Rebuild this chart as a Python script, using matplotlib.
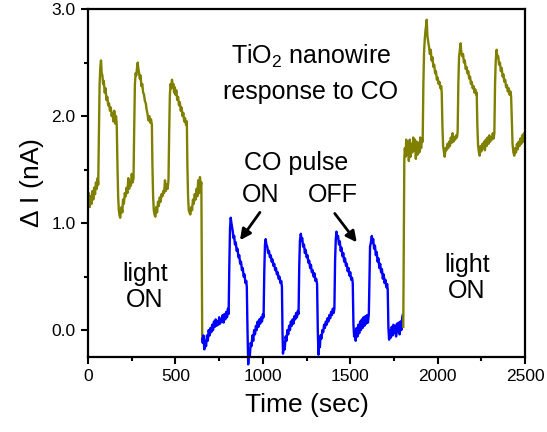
import numpy as np
import matplotlib
matplotlib.use("Agg")
import matplotlib.pyplot as plt
from matplotlib.ticker import MultipleLocator, FormatStrFormatter

plt.rcParams['font.family'] = ['Liberation Sans', 'DejaVu Sans']
plt.rcParams['mathtext.default'] = 'regular'

# first light-on period (olive)
t_light1 = [0, 5, 10, 15, 20, 25, 30, 35, 40, 45, 50, 55, 58, 62, 66, 70, 74, 78, 82, 86,
            90, 95, 100, 105, 110, 115, 120, 125, 130, 135, 140, 145, 150, 155, 160, 164, 168,
            172, 176, 180, 184, 188, 192, 196, 200, 205, 210, 215, 220, 225, 230, 235, 240,
            245, 250, 255, 260, 264, 268, 272, 276, 280, 284, 288, 292, 296, 300, 305, 310,
            315, 320, 325, 330, 335, 340, 345, 350, 355, 360, 365, 368, 372, 376, 380, 385,
            390, 395, 400, 405, 410, 415, 420, 425, 430, 435, 440, 445, 450, 455, 460, 464,
            468, 472, 476, 480, 484, 488, 492, 496, 500, 505, 510, 515, 520, 525, 530, 535,
            540, 545, 550, 555, 560, 565, 568, 572, 576, 580, 585, 590, 595, 600, 605, 610,
            615, 620, 625, 630, 635, 640, 645, 648, 651, 653]
i_light1 = [1.20, 1.28, 1.15, 1.25, 1.18, 1.30, 1.22, 1.33, 1.27, 1.38, 1.32, 1.42, 1.36, 1.80,
            2.30, 2.45, 2.52, 2.40, 2.38, 2.30, 2.33, 2.22, 2.26, 2.15, 2.18, 2.10, 2.12, 2.05,
            2.08, 2.00, 2.03, 1.95, 2.05, 1.93, 2.00, 1.92, 1.55, 1.25, 1.12, 1.07, 1.05, 1.12,
            1.15, 1.10, 1.22, 1.18, 1.28, 1.25, 1.33, 1.28, 1.42, 1.32, 1.38, 1.35, 1.46, 1.38,
            1.42, 1.90, 2.30, 2.40, 2.38, 2.45, 2.50, 2.44, 2.40, 2.35, 2.38, 2.28, 2.30, 2.22,
            2.20, 2.14, 2.12, 2.06, 2.02, 1.96, 2.00, 1.94, 1.97, 1.92, 1.55, 1.25, 1.12, 1.08,
            1.06, 1.15, 1.10, 1.20, 1.16, 1.24, 1.20, 1.27, 1.25, 1.30, 1.28, 1.40, 1.30, 1.36,
            1.32, 1.40, 1.85, 2.20, 2.30, 2.26, 2.34, 2.28, 2.30, 2.22, 2.27, 2.20, 2.24, 2.15,
            2.18, 2.10, 2.13, 2.05, 2.08, 2.00, 2.03, 1.95, 1.98, 1.92, 1.95, 1.55, 1.25, 1.12,
            1.10, 1.08, 1.15, 1.12, 1.22, 1.18, 1.27, 1.22, 1.32, 1.25, 1.40, 1.28, 1.43, 1.35,
            1.38, 0.60, -0.08]

# dark period with CO pulses (blue)
t_co = [653, 656, 660, 665, 670, 675, 680, 685, 690, 695, 700, 705, 710, 715, 720, 725, 730,
        735, 740, 745, 750, 755, 760, 765, 770, 775, 780, 785, 790, 795, 800, 804, 808, 812,
        816, 820, 824, 828, 832, 836, 840, 845, 850, 855, 860, 865, 870, 875, 880, 885, 890,
        895, 900, 905, 908, 912, 916, 920, 925, 930, 935, 940, 945, 950, 955, 960, 965, 970,
        975, 980, 985, 990, 995, 1000, 1004, 1008, 1012, 1016, 1020, 1025, 1030, 1035, 1040,
        1045, 1050, 1055, 1060, 1065, 1070, 1075, 1080, 1085, 1090, 1095, 1100, 1105, 1109,
        1112, 1115, 1120, 1125, 1130, 1135, 1140, 1145, 1150, 1155, 1160, 1165, 1170, 1175,
        1180, 1185, 1190, 1195, 1200, 1204, 1208, 1212, 1217, 1221, 1225, 1230, 1235, 1240,
        1245, 1250, 1255, 1260, 1265, 1270, 1275, 1280, 1285, 1290, 1295, 1300, 1305, 1310,
        1314, 1318, 1322, 1326, 1330, 1335, 1340, 1345, 1350, 1355, 1360, 1365, 1370, 1375,
        1380, 1385, 1390, 1395, 1400, 1405, 1409, 1413, 1417, 1421, 1425, 1430, 1435, 1440,
        1445, 1450, 1455, 1460, 1465, 1470, 1475, 1480, 1485, 1490, 1495, 1500, 1505, 1510,
        1514, 1518, 1522, 1527, 1531, 1536, 1541, 1546, 1551, 1556, 1561, 1566, 1571, 1576,
        1581, 1586, 1591, 1596, 1601, 1606, 1609, 1613, 1618, 1623, 1627, 1631, 1636, 1641,
        1646, 1651, 1656, 1661, 1666, 1671, 1676, 1681, 1686, 1691, 1696, 1701, 1706, 1711,
        1714, 1718, 1722, 1727, 1732, 1737, 1742, 1747, 1752, 1757, 1762, 1767, 1772, 1777,
        1782, 1787, 1792, 1797, 1800]
i_co = [-0.08, -0.12, -0.05, -0.18, -0.10, -0.15, -0.05, -0.10, 0.00, -0.05, 0.02, -0.02, 0.05,
        0.00, 0.08, 0.03, 0.10, 0.04, 0.08, 0.05, 0.12, 0.06, 0.10, 0.08, 0.14, 0.07, 0.15, 0.10,
        0.17, 0.12, 0.20, 0.15, 0.60, 0.95, 1.05, 1.00, 0.96, 0.92, 0.86, 0.88, 0.80, 0.82, 0.74,
        0.76, 0.68, 0.70, 0.62, 0.64, 0.56, 0.58, 0.50, 0.52, 0.44, 0.46, 0.40, 0.00, -0.32,
        -0.20, -0.25, -0.12, -0.15, -0.05, -0.10, 0.00, -0.04, 0.04, 0.00, 0.08, 0.03, 0.10,
        0.06, 0.12, 0.08, 0.15, 0.12, 0.55, 0.80, 0.85, 0.80, 0.78, 0.72, 0.74, 0.68, 0.70,
        0.64, 0.66, 0.60, 0.62, 0.56, 0.58, 0.52, 0.54, 0.48, 0.50, 0.44, 0.46, 0.40, 0.00,
        -0.22, -0.12, -0.18, -0.06, -0.10, 0.00, -0.04, 0.04, 0.00, 0.08, 0.04, 0.10, 0.06,
        0.13, 0.10, 0.16, 0.12, 0.18, 0.15, 0.60, 0.84, 0.90, 0.84, 0.86, 0.78, 0.80, 0.72,
        0.75, 0.68, 0.70, 0.63, 0.65, 0.58, 0.61, 0.54, 0.56, 0.50, 0.53, 0.46, 0.48, 0.43,
        0.00, -0.23, -0.12, -0.16, -0.05, -0.08, 0.00, -0.02, 0.05, 0.02, 0.08, 0.05, 0.11,
        0.08, 0.14, 0.11, 0.17, 0.14, 0.20, 0.16, 0.20, 0.65, 0.85, 0.92, 0.86, 0.88, 0.80,
        0.83, 0.74, 0.77, 0.69, 0.72, 0.64, 0.67, 0.60, 0.62, 0.55, 0.58, 0.51, 0.54, 0.47,
        0.49, 0.44, 0.05, -0.06, -0.02, -0.10, 0.02, -0.06, 0.05, -0.03, 0.08, 0.00, 0.10,
        0.02, 0.12, 0.04, 0.13, 0.06, 0.14, 0.07, 0.15, 0.40, 0.78, 0.82, 0.88, 0.82, 0.85,
        0.76, 0.79, 0.70, 0.73, 0.64, 0.67, 0.58, 0.62, 0.54, 0.57, 0.48, 0.52, 0.44, 0.47,
        0.40, 0.43, 0.38, 0.02, -0.09, 0.00, -0.07, 0.03, -0.05, 0.05, -0.03, 0.04, -0.06,
        0.06, -0.02, 0.07, -0.04, 0.08, 0.00, 0.12, 0.14]

# second light-on period (olive)
t_light2 = [1803, 1806, 1809, 1812, 1816, 1820, 1825, 1830, 1835, 1840, 1845, 1850, 1855, 1860,
            1865, 1870, 1875, 1880, 1885, 1890, 1895, 1900, 1905, 1910, 1914, 1918, 1922, 1926,
            1930, 1934, 1937, 1941, 1945, 1950, 1955, 1960, 1965, 1970, 1975, 1980, 1985, 1990,
            1995, 2000, 2005, 2010, 2015, 2020, 2023, 2027, 2031, 2036, 2040, 2045, 2050, 2055,
            2060, 2065, 2070, 2075, 2080, 2085, 2090, 2095, 2100, 2105, 2110, 2114, 2118, 2122,
            2127, 2131, 2135, 2140, 2145, 2150, 2155, 2160, 2165, 2170, 2175, 2180, 2185, 2190,
            2195, 2200, 2205, 2210, 2215, 2220, 2223, 2227, 2231, 2236, 2240, 2245, 2250, 2255,
            2260, 2265, 2270, 2275, 2280, 2285, 2290, 2295, 2300, 2305, 2310, 2315, 2320, 2324,
            2328, 2332, 2337, 2341, 2346, 2351, 2356, 2361, 2366, 2371, 2376, 2381, 2386, 2391,
            2396, 2401, 2406, 2411, 2416, 2420, 2424, 2428, 2433, 2438, 2443, 2448, 2453, 2458,
            2463, 2468, 2473, 2478, 2483, 2488, 2493, 2497, 2500]
i_light2 = [0.03, 0.80, 1.60, 1.70, 1.62, 1.78, 1.64, 1.75, 1.58, 1.78, 1.62, 1.74, 1.66, 1.80,
            1.68, 1.78, 1.60, 1.76, 1.64, 1.75, 1.66, 1.80, 1.70, 1.78, 1.76, 2.30, 2.60, 2.72,
            2.80, 2.85, 2.90, 2.75, 2.70, 2.65, 2.58, 2.62, 2.52, 2.55, 2.46, 2.48, 2.40, 2.42,
            2.34, 2.36, 2.30, 2.32, 2.26, 2.28, 2.22, 1.90, 1.72, 1.66, 1.62, 1.70, 1.68, 1.74,
            1.70, 1.76, 1.72, 1.80, 1.75, 1.84, 1.76, 1.80, 1.78, 1.82, 1.80, 1.85, 2.30, 2.55,
            2.62, 2.68, 2.60, 2.56, 2.58, 2.50, 2.52, 2.44, 2.46, 2.40, 2.42, 2.35, 2.37, 2.30,
            2.32, 2.26, 2.28, 2.22, 2.25, 2.20, 2.22, 1.90, 1.72, 1.66, 1.63, 1.72, 1.67, 1.74,
            1.70, 1.76, 1.68, 1.78, 1.72, 1.80, 1.74, 1.82, 1.76, 1.80, 1.78, 1.84, 1.79, 1.84,
            2.30, 2.52, 2.62, 2.55, 2.56, 2.48, 2.50, 2.42, 2.45, 2.37, 2.39, 2.32, 2.34, 2.27,
            2.29, 2.23, 2.26, 2.20, 2.23, 2.18, 1.95, 1.74, 1.66, 1.63, 1.70, 1.66, 1.74, 1.69,
            1.76, 1.72, 1.79, 1.74, 1.82, 1.76, 1.84, 1.78, 1.80]

olive = '#808000'

fig = plt.figure(figsize=(5.47, 4.32), dpi=100)
ax = fig.add_axes([0.161, 0.174, 0.799, 0.805])

ax.plot(t_light1, i_light1, color=olive, lw=1.7)
ax.plot(t_co, i_co, color='#0000ff', lw=1.7, clip_on=False)
ax.plot(t_light2, i_light2, color=olive, lw=1.7)

ax.set_xlim(0, 2500)
ax.set_ylim(-0.25, 3.0)
ax.xaxis.set_major_locator(MultipleLocator(500))
ax.xaxis.set_minor_locator(MultipleLocator(250))
ax.yaxis.set_major_locator(MultipleLocator(1.0))
ax.yaxis.set_minor_locator(MultipleLocator(0.5))
ax.yaxis.set_major_formatter(FormatStrFormatter('%.1f'))
ax.tick_params(which='major', direction='out', length=5, width=1.5, labelsize=12.5, pad=4)
ax.tick_params(which='minor', direction='out', length=3, width=1.5)
for s in ax.spines.values():
    s.set_linewidth(1.6)

ax.set_xlabel('Time (sec)', fontsize=19, labelpad=6)
ax.set_ylabel(r'$\Delta$ I (nA)', fontsize=19, labelpad=4)

ax.text(1274, 2.40, 'TiO$_2$ nanowire\nresponse to CO', fontsize=18, ha='center', va='center',
        linespacing=1.5)
ax.text(1189, 1.56, 'CO pulse', fontsize=18, ha='center', va='center')
ax.text(989, 1.26, 'ON', fontsize=18, ha='center', va='center')
ax.text(1400, 1.26, 'OFF', fontsize=18, ha='center', va='center')
ax.text(326, 0.40, 'light\nON', fontsize=18, ha='center', va='center', linespacing=1.1)
ax.text(2166, 0.49, 'light\nON', fontsize=18, ha='center', va='center', linespacing=1.1)

arrow = dict(arrowstyle='-|>', color='k', lw=2, mutation_scale=16, shrinkA=0, shrinkB=0)
ax.annotate('', xy=(869, 0.84), xytext=(983, 1.10), arrowprops=arrow)
ax.annotate('', xy=(1537, 0.82), xytext=(1411, 1.09), arrowprops=arrow)

fig.savefig('out.png', dpi=100)
